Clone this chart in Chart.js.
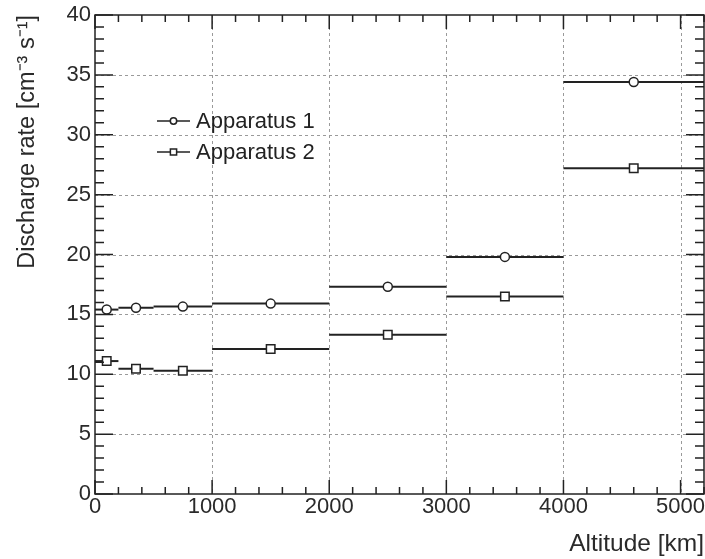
<!DOCTYPE html>
<html>
<head>
<meta charset="utf-8">
<script src="https://cdn.jsdelivr.net/npm/chart.js@4.4.0/dist/chart.umd.min.js"></script>
<style>
  html, body { margin: 0; padding: 0; background: #fff; }
  #wrap { width: 705px; height: 559px; }
</style>
</head>
<body>
<div id="wrap"><canvas id="chart" width="705" height="559"></canvas></div>
<script>
// Altitude bins [km]
const binLow = [0, 200, 500, 1000, 2000, 3000, 4000];
const binHigh = [200, 500, 1000, 2000, 3000, 4000, 5200];
const binCenter = [100, 350, 750, 1500, 2500, 3500, 4600];

// Discharge rates [cm^-3 s^-1]
const apparatus1 = [15.4, 15.55, 15.65, 15.9, 17.3, 19.8, 34.4];
const apparatus2 = [11.1, 10.45, 10.3, 12.1, 13.3, 16.5, 27.2];

// Axis ticks
const xTicks = [0, 1000, 2000, 3000, 4000, 5000];
const yTicks = [0, 5, 10, 15, 20, 25, 30, 35, 40];
const xMinorStep = 200;
const yMinorStep = 1;

const FONT = '"Liberation Sans", Arial, Helvetica, sans-serif';
const INK = '#222';

// Build points with their bin edges
const toPoints = (values) => values.map((v, i) => ({
  x: binCenter[i], y: v, xMin: binLow[i], xMax: binHigh[i]
}));

// Dashed grid at the major ticks
const rootGrid = {
  id: 'rootGrid',
  beforeDatasetsDraw(chart) {
    const { ctx, chartArea: a, scales: { x, y } } = chart;
    ctx.save();
    ctx.strokeStyle = '#9a9a9a';
    ctx.lineWidth = 1;
    ctx.setLineDash([3, 3]);
    xTicks.forEach(v => {
      if (v === x.min) return;
      const px = Math.round(x.getPixelForValue(v)) + 0.5;
      ctx.beginPath(); ctx.moveTo(px, a.top); ctx.lineTo(px, a.bottom); ctx.stroke();
    });
    yTicks.forEach(v => {
      if (v === y.min || v === y.max) return;
      const py = Math.round(y.getPixelForValue(v)) + 0.5;
      ctx.beginPath(); ctx.moveTo(a.left, py); ctx.lineTo(a.right, py); ctx.stroke();
    });
    ctx.restore();
  }
};

// Horizontal bars showing the bin width
const binBars = {
  id: 'binBars',
  beforeDatasetsDraw(chart) {
    const { ctx, scales: { x, y } } = chart;
    ctx.save();
    ctx.lineWidth = 2;
    ctx.strokeStyle = INK;
    chart.data.datasets.forEach(ds => {
      ds.data.forEach(p => {
        const py = y.getPixelForValue(p.y);
        ctx.beginPath();
        ctx.moveTo(x.getPixelForValue(p.xMin), py);
        ctx.lineTo(x.getPixelForValue(p.xMax), py);
        ctx.stroke();
      });
    });
    ctx.restore();
  }
};

// Frame with inward ticks on all four sides
const rootFrame = {
  id: 'rootFrame',
  afterDatasetsDraw(chart) {
    const { ctx, chartArea: a, scales: { x, y } } = chart;
    ctx.save();
    ctx.strokeStyle = INK;
    ctx.lineWidth = 1.5;
    ctx.strokeRect(a.left, a.top, a.right - a.left, a.bottom - a.top);

    // x ticks (bottom and top)
    for (let v = x.min; v <= x.max; v += xMinorStep) {
      const px = x.getPixelForValue(v);
      const len = xTicks.includes(v) ? 14 : 7;
      ctx.beginPath();
      ctx.moveTo(px, a.bottom); ctx.lineTo(px, a.bottom - len);
      ctx.moveTo(px, a.top); ctx.lineTo(px, a.top + len);
      ctx.stroke();
    }
    // y ticks (left and right)
    for (let v = y.min; v <= y.max; v += yMinorStep) {
      const py = y.getPixelForValue(v);
      const len = yTicks.includes(v) ? 18 : 9;
      ctx.beginPath();
      ctx.moveTo(a.left, py); ctx.lineTo(a.left + len, py);
      ctx.moveTo(a.right, py); ctx.lineTo(a.right - len, py);
      ctx.stroke();
    }
    ctx.restore();
  }
};

// Legend in the ROOT style, inside the frame
const rootLegend = {
  id: 'rootLegend',
  afterDraw(chart) {
    const { ctx } = chart;
    const x0 = 157, x1 = 190, textX = 196;
    const rows = [121, 152];
    ctx.save();
    ctx.font = `22px ${FONT}`;
    ctx.textBaseline = 'middle';
    chart.data.datasets.forEach((ds, i) => {
      const yy = rows[i];
      ctx.strokeStyle = INK;
      ctx.lineWidth = 1.5;
      ctx.beginPath(); ctx.moveTo(x0, yy); ctx.lineTo(x1, yy); ctx.stroke();
      ctx.fillStyle = '#ffffff';
      Chart.helpers.drawPoint(ctx, {
        pointStyle: ds.pointStyle,
        radius: ds.pointStyle === 'rect' ? 4.4 : 3.2,
        borderWidth: 1.5
      }, (x0 + x1) / 2, yy);
      ctx.fillStyle = INK;
      ctx.fillText(ds.label, textX, yy + 1);
    });
    ctx.restore();
  }
};

const pointStyleBase = {
  showLine: false,
  pointBackgroundColor: '#ffffff',
  pointBorderColor: INK,
  pointBorderWidth: 1.5
};

const chart = new Chart(document.getElementById('chart'), {
  type: 'scatter',
  data: {
    datasets: [
      Object.assign({
        label: 'Apparatus 1', data: toPoints(apparatus1), pointStyle: 'circle',
        pointRadius: 4.5, pointHoverRadius: 4.5
      }, pointStyleBase),
      Object.assign({
        label: 'Apparatus 2', data: toPoints(apparatus2), pointStyle: 'rect',
        pointRadius: 6, pointHoverRadius: 6
      }, pointStyleBase)
    ]
  },
  options: {
    responsive: false,
    animation: false,
    layout: { autoPadding: false, padding: { top: 15, right: 1, left: 0, bottom: 0 } },
    plugins: {
      legend: { display: false },
      tooltip: { enabled: false }
    },
    scales: {
      x: {
        type: 'linear',
        min: 0,
        max: 5200,
        grid: { display: false, drawTicks: false },
        border: { display: false },
        afterBuildTicks: (scale) => { scale.ticks = xTicks.map(v => ({ value: v })); },
        afterFit: (scale) => {
          scale.height = 65;
          scale.paddingLeft = 0;
          scale.paddingRight = 0;
        },
        ticks: {
          padding: 0,
          color: '#2a2a2a',
          callback: (v) => String(v),
          font: { family: FONT, size: 22, lineHeight: 1.2 }
        },
        title: {
          display: true,
          text: 'Altitude [km]',
          align: 'end',
          color: '#2a2a2a',
          padding: { top: 0, bottom: 0 },
          font: { family: FONT, size: 24.5, lineHeight: 1.2 }
        }
      },
      y: {
        type: 'linear',
        min: 0,
        max: 40,
        grid: { display: false, drawTicks: false },
        border: { display: false },
        afterBuildTicks: (scale) => { scale.ticks = yTicks.map(v => ({ value: v })); },
        afterFit: (scale) => {
          scale.width = 95;
          scale.paddingTop = 0;
          scale.paddingBottom = 0;
        },
        ticks: {
          padding: 4,
          color: '#2a2a2a',
          callback: (v) => String(v),
          font: { family: FONT, size: 22, lineHeight: 1.2 }
        },
        title: {
          display: true,
          text: 'Discharge rate [cm⁻³ s⁻¹]',
          align: 'end',
          color: '#2a2a2a',
          padding: { top: 13, bottom: 0 },
          font: { family: FONT, size: 23.5, lineHeight: 1.2 }
        }
      }
    }
  },
  plugins: [rootGrid, binBars, rootFrame, rootLegend]
});
</script>
</body>
</html>
